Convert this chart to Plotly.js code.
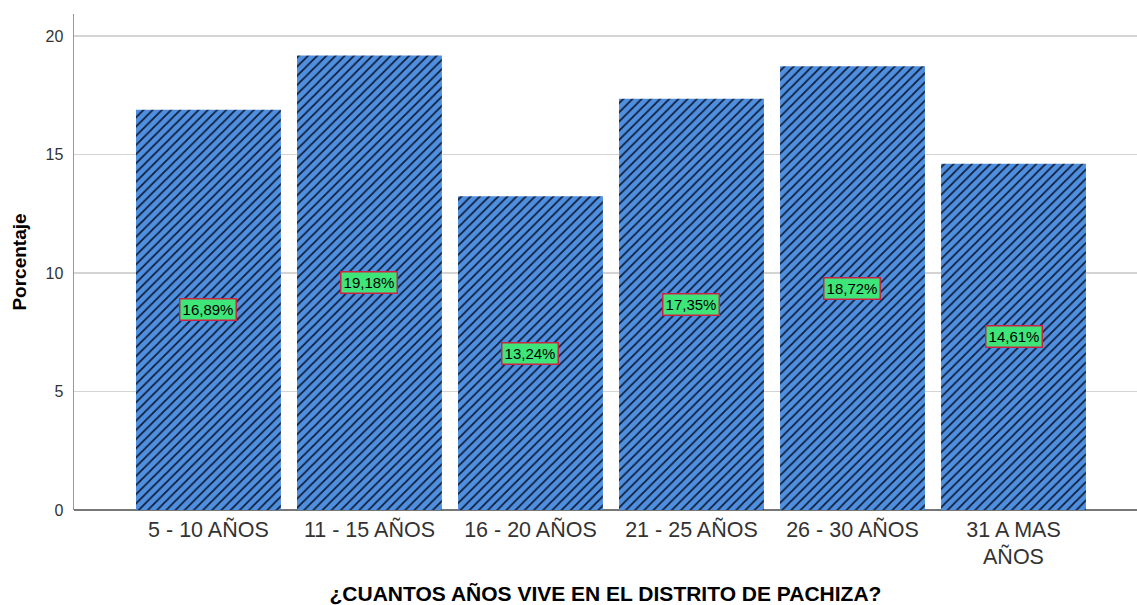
<!DOCTYPE html>
<html><head><meta charset="utf-8">
<script src="https://cdn.plot.ly/plotly-3.0.1.min.js"></script>
<style>html,body{margin:0;padding:0;background:#fff}#c{width:1137px;height:605px}</style>
</head><body><div id="c"></div>
<script>
const categories = ["5 - 10 AÑOS","11 - 15 AÑOS","16 - 20 AÑOS","21 - 25 AÑOS","26 - 30 AÑOS","31 A MAS<br>AÑOS"];
const percentages = [16.89, 19.18, 13.24, 17.35, 18.72, 14.61];
const labels = ["16,89%","19,18%","13,24%","17,35%","18,72%","14,61%"];
const yTicks = [0, 5, 10, 15, 20];

const F = 'Arial, Liberation Sans, sans-serif';
const idx = categories.map((_, i) => i);
const trace = {
  type: 'bar', x: idx, y: percentages, width: 0.9,
  marker: {color: '#4f8fdf', line: {width: 0},
    pattern: {shape: '/', fgcolor: '#0f1c36', bgcolor: '#4f8fdf', size: 6.5, solidity: 0.27}},
  hoverinfo: 'none'
};
const annotations = idx.map(i => ({
  x: i, y: percentages[i] / 2, text: labels[i], showarrow: false,
  font: {family: F, size: 15, color: '#000'},
  width: 52, height: 17,
  bgcolor: '#3ee67a', bordercolor: '#cc2248', borderwidth: 1.5, borderpad: 1.5
}));
const layout = {
  width: 1137, height: 605,
  margin: {l: 74, r: 0, t: 14, b: 95},
  paper_bgcolor: '#fff', plot_bgcolor: '#fff',
  showlegend: false,
  xaxis: {range: [-0.835, 5.767], tickvals: idx, ticktext: categories,
    showgrid: false, zeroline: false, showline: false, ticks: '', ticklabelstandoff: 4,
    tickfont: {family: F, size: 21.5, color: '#333'},
    title: {text: '<b>¿CUANTOS AÑOS VIVE EN EL DISTRITO DE PACHIZA?</b>', standoff: 20,
      font: {family: F, size: 21, color: '#000'}}},
  yaxis: {range: [0, 20.93], tickvals: yTicks, ticktext: yTicks.map(String),
    showgrid: true, gridcolor: '#d4d4d4', gridwidth: 1.5, zeroline: true, zerolinecolor: '#777', zerolinewidth: 1.5,
    showline: true, linecolor: '#999', linewidth: 1.5,
    ticks: '', ticklabelstandoff: 6,
    tickfont: {family: F, size: 16, color: '#333'},
    title: {text: '<b>Porcentaje</b>', standoff: 14,
      font: {family: F, size: 19, color: '#000'}}},
  annotations: annotations
};
Plotly.newPlot('c', [trace], layout, {displayModeBar: false, staticPlot: true});
</script></body></html>
